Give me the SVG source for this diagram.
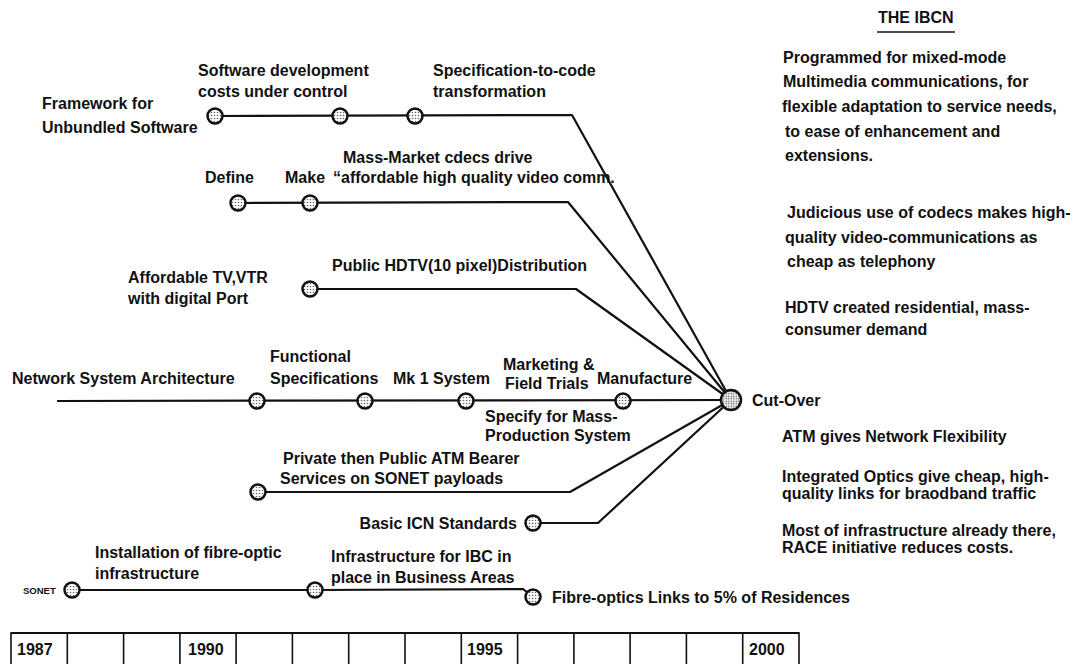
<svg xmlns="http://www.w3.org/2000/svg" width="1087" height="664" viewBox="0 0 1087 664">
<style>
text{font-family:"Liberation Sans",Arial,sans-serif;font-weight:bold;font-size:16px;fill:#111}
.tiny{font-size:9.5px}
.ln{fill:none;stroke:#111;stroke-width:2.2;stroke-linejoin:round}
.nd{fill:url(#dots);stroke:#111;stroke-width:2.5}
.cell{fill:none;stroke:#111;stroke-width:1.6}
</style>
<defs>
<pattern id="dots" width="3" height="3" patternUnits="userSpaceOnUse"><rect width="3" height="3" fill="#fff"/><circle cx="1.5" cy="1.5" r="0.8" fill="#666"/></pattern>
<pattern id="dots2" width="2.5" height="2.5" patternUnits="userSpaceOnUse"><rect width="2.5" height="2.5" fill="#fff"/><circle cx="1.25" cy="1.25" r="0.8" fill="#555"/></pattern>
</defs>
<rect width="1087" height="664" fill="#fff"/>

<g id="connectors">
<polyline class="ln" points="215,116 572,115 731,400"/>
<polyline class="ln" points="238,203 568,202 731,400"/>
<polyline class="ln" points="310,289 576,289 731,400"/>
<polyline class="ln" points="57,401 731,400"/>
<polyline class="ln" points="258,492 570,492 731,400"/>
<polyline class="ln" points="533,523 598,523 731,400"/>
<polyline class="ln" points="72,590 315,590 523,589 533,597"/>
</g>

<g id="n_framework"><circle class="nd" cx="215" cy="116" r="7.5"/><text x="42" y="109">Framework for</text><text x="42" y="133">Unbundled Software</text></g>
<g id="n_swdev"><circle class="nd" cx="340" cy="116" r="7.5"/><text x="198" y="76">Software development</text><text x="198" y="97">costs under control</text></g>
<g id="n_spec2code"><circle class="nd" cx="415" cy="116" r="7.5"/><text x="433" y="76">Specification-to-code</text><text x="433" y="97">transformation</text></g>

<g id="n_define"><circle class="nd" cx="238" cy="203" r="7.5"/><text x="205" y="183">Define</text></g>
<g id="n_make"><circle class="nd" cx="310" cy="203" r="7.5"/><text x="285" y="183">Make</text><text x="343" y="163">Mass-Market cdecs drive</text><text x="333" y="183">“affordable high quality video comm.</text></g>

<g id="n_tvvtr"><circle class="nd" cx="310" cy="289" r="7.5"/><text x="128" y="283">Affordable TV,VTR</text><text x="128" y="304">with digital Port</text><text x="332" y="271">Public HDTV(10 pixel)Distribution</text></g>

<g id="n_funcspec"><circle class="nd" cx="257" cy="401" r="7.5"/><text x="12" y="384">Network System Architecture</text></g>
<g id="n_mk1"><circle class="nd" cx="365" cy="401" r="7.5"/><text x="270" y="362">Functional</text><text x="270" y="384">Specifications</text></g>
<g id="n_trials"><circle class="nd" cx="466" cy="401" r="7.5"/><text x="393" y="384">Mk 1 System</text></g>
<g id="n_manufacture"><circle class="nd" cx="623" cy="401" r="7.5"/><text x="503" y="370">Marketing &amp;</text><text x="505" y="389">Field Trials</text><text x="597" y="384">Manufacture</text><text x="485" y="422">Specify for Mass-</text><text x="485" y="441">Production System</text></g>

<g id="n_atm"><circle class="nd" cx="258" cy="492" r="7.5"/><text x="283" y="464">Private then Public ATM Bearer</text><text x="280" y="484">Services on SONET payloads</text></g>
<g id="n_icn"><circle class="nd" cx="533" cy="523" r="7.5"/><text x="517" y="529" text-anchor="end">Basic ICN Standards</text></g>

<g id="n_sonet"><circle class="nd" cx="72" cy="590" r="7.5"/><text class="tiny" x="23" y="594">SONET</text><text x="95" y="558">Installation of fibre-optic</text><text x="95" y="579">infrastructure</text></g>
<g id="n_ibc"><circle class="nd" cx="315" cy="590" r="7.5"/><text x="331" y="562">Infrastructure for IBC in</text><text x="331" y="583">place in Business Areas</text></g>
<g id="n_fibre"><circle class="nd" cx="533" cy="597" r="7.5"/><text x="552" y="603">Fibre-optics Links to 5% of Residences</text></g>

<g id="n_cutover"><circle cx="731" cy="400" r="10" fill="url(#dots2)" stroke="#111" stroke-width="2.5"/><text x="752" y="406">Cut-Over</text></g>

<g id="notes">
<text x="878" y="23">THE IBCN</text>
<line x1="877" y1="32" x2="955" y2="32" stroke="#111" stroke-width="1.5"/>
<text x="783" y="63">Programmed for mixed-mode</text>
<text x="783" y="87">Multimedia communications, for</text>
<text x="782" y="112">flexible adaptation to service needs,</text>
<text x="785" y="137">to ease of enhancement and</text>
<text x="785" y="161">extensions.</text>
<text x="787" y="218">Judicious use of codecs makes high-</text>
<text x="785" y="243">quality video-communications as</text>
<text x="787" y="267">cheap as telephony</text>
<text x="785" y="313">HDTV created residential, mass-</text>
<text x="785" y="335">consumer demand</text>
<text x="782" y="442">ATM gives Network Flexibility</text>
<text x="782" y="482">Integrated Optics give cheap, high-</text>
<text x="782" y="499">quality links for braodband traffic</text>
<text x="782" y="536">Most of infrastructure already there,</text>
<text x="782" y="553">RACE initiative reduces costs.</text>
</g>

<g id="timeline">
<rect class="cell" x="11" y="633" width="788" height="40"/>
<line x1="11" y1="633" x2="799" y2="633" stroke="#111" stroke-width="2.2"/>
<g stroke="#111" stroke-width="1.6">
<line x1="67.3" y1="633" x2="67.3" y2="664"/><line x1="123.6" y1="633" x2="123.6" y2="664"/><line x1="179.9" y1="633" x2="179.9" y2="664"/><line x1="236.1" y1="633" x2="236.1" y2="664"/><line x1="292.4" y1="633" x2="292.4" y2="664"/><line x1="348.7" y1="633" x2="348.7" y2="664"/><line x1="405" y1="633" x2="405" y2="664"/><line x1="461.3" y1="633" x2="461.3" y2="664"/><line x1="517.6" y1="633" x2="517.6" y2="664"/><line x1="573.9" y1="633" x2="573.9" y2="664"/><line x1="630.1" y1="633" x2="630.1" y2="664"/><line x1="686.4" y1="633" x2="686.4" y2="664"/><line x1="742.7" y1="633" x2="742.7" y2="664"/>
</g>
<text x="17" y="655">1987</text>
<text x="188" y="655">1990</text>
<text x="467" y="655">1995</text>
<text x="749" y="655">2000</text>
</g>
</svg>
